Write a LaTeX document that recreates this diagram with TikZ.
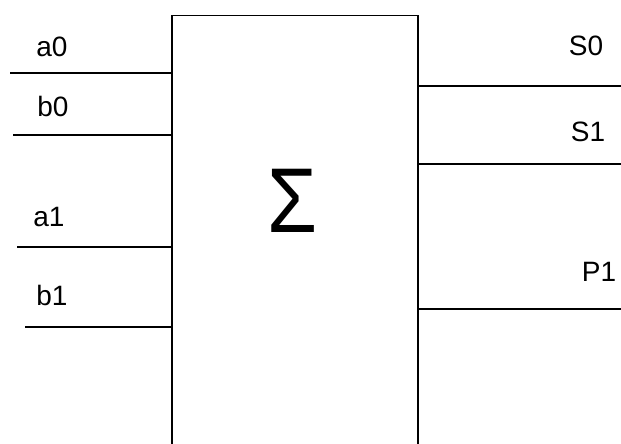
\documentclass[tikz,border=0pt]{standalone}
\usepackage{fontspec}
\setmainfont{Liberation Sans}
\usetikzlibrary{positioning}
\tikzset{
  wire/.style={line width=1.2pt},
  pin/.style={inner sep=0pt,font=\fontsize{28}{30}\selectfont},
  adder/.style={draw,line width=1.5pt,minimum width=246pt,minimum height=440pt,inner sep=0pt}
}
\begin{document}
\begin{tikzpicture}[x=1pt,y=-1pt]
\clip (0,0) rectangle (621,444);
\node[adder,anchor=north] (sum) at (295,15) {};
\node[inner sep=0pt,font=\fontsize{92}{96}\selectfont,xscale=0.88] (sigma) at (293,201) {Σ};
% inputs
\foreach \n/\x/\y/\lx/\ly in {a0/10/73/52/47,b0/13/135/53/106,a1/17/247/49/217,b1/25/327/52/295} {
  \coordinate (in\n) at (\x,\y);
  \node[pin] (\n) at (\lx,\ly) {\n};
  \draw[wire] (in\n) -- (in\n -| sum.west);
}
% outputs
\foreach \n/\y/\lx/\ly in {S0/86/586/46,S1/164/588/132,P1/309/599/272} {
  \coordinate (out\n) at (625,\y);
  \node[pin] (\n) at (\lx,\ly) {\n};
  \draw[wire] (out\n -| sum.east) -- (out\n);
}
\end{tikzpicture}
\end{document}
